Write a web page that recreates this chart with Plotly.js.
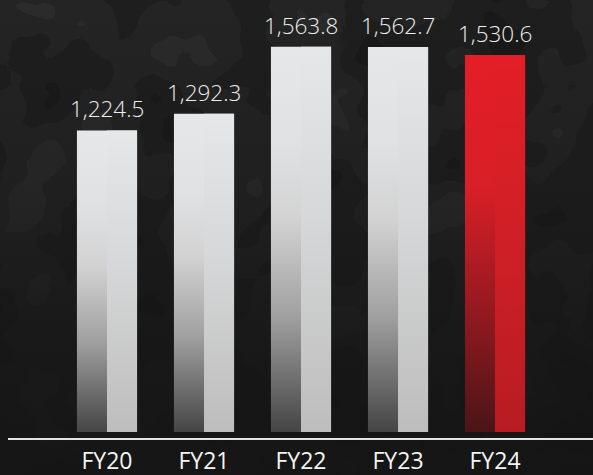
<!DOCTYPE html>
<html>
<head>
<meta charset="utf-8">
<script src="https://cdn.plot.ly/plotly-3.0.1.min.js"></script>
<style>
html,body{margin:0;padding:0;width:593px;height:475px;overflow:hidden;background:#161616;}
#bg{position:absolute;left:0;top:0;width:593px;height:475px;}
#chart{position:absolute;left:0;top:0;width:593px;height:475px;}
</style>
</head>
<body>
<svg id="bg" xmlns="http://www.w3.org/2000/svg" width="593" height="475">
  <defs>
    <filter id="camo" x="0" y="0" width="100%" height="100%" color-interpolation-filters="sRGB">
      <feTurbulence type="fractalNoise" baseFrequency="0.011" numOctaves="3" seed="7" result="n"/>
      <feColorMatrix in="n" type="matrix" values="1 0 0 0 0  1 0 0 0 0  1 0 0 0 0  0 0 0 0 1"/>
      <feComponentTransfer>
        <feFuncR type="discrete" tableValues="0.085 0.10 0.12 0.145 0.17 0.125"/>
        <feFuncG type="discrete" tableValues="0.085 0.10 0.12 0.145 0.17 0.125"/>
        <feFuncB type="discrete" tableValues="0.085 0.10 0.12 0.145 0.17 0.125"/>
      </feComponentTransfer>
    </filter>
    <linearGradient id="fade" x1="0" y1="0" x2="0" y2="1">
      <stop offset="0" stop-color="#151515" stop-opacity="0"/>
      <stop offset="0.45" stop-color="#151515" stop-opacity="0.35"/>
      <stop offset="0.75" stop-color="#151515" stop-opacity="0.8"/>
      <stop offset="1" stop-color="#141414" stop-opacity="0.9"/>
    </linearGradient>
  </defs>
  <rect width="593" height="475" filter="url(#camo)"/>
  <rect width="593" height="475" fill="url(#fade)"/>
</svg>
<div id="chart"></div>
<script>
// ---- data ----
var categories = ['FY20', 'FY21', 'FY22', 'FY23', 'FY24'];
var revenue = [1224.5, 1292.3, 1563.8, 1562.7, 1530.6];
var valueLabels = ['1,224.5', '1,292.3', '1,563.8', '1,562.7', '1,530.6'];
var highlight = [false, false, false, false, true];

var GREY = '#e6e7e8', RED = '#e31e26';
var barColors = highlight.map(function(h){ return h ? RED : GREY; });

var traceLeft = {
  type: 'bar', x: categories, y: revenue,
  width: 0.62, offset: -0.31,
  marker: {color: barColors, line: {width: 0}},
  hoverinfo: 'skip', showlegend: false
};
var traceRight = {
  type: 'bar', x: categories, y: revenue,
  width: 0.31, offset: 0,
  marker: {color: barColors, line: {width: 0}},
  hoverinfo: 'skip', showlegend: false
};

var annotations = categories.map(function(c, i){
  return {
    x: c, y: revenue[i], xref: 'x', yref: 'y',
    text: valueLabels[i], showarrow: false,
    yanchor: 'bottom', yshift: 4,
    font: {family: 'Open Sans, sans-serif', size: 22.5, color: '#eeeeee', weight: 300}
  };
});

var layout = {
  width: 593, height: 475,
  margin: {l: 0, r: 0, t: 0, b: 43, pad: 0},
  paper_bgcolor: 'rgba(0,0,0,0)', plot_bgcolor: 'rgba(0,0,0,0)',
  barmode: 'overlay',
  xaxis: {
    type: 'category', range: [-1.103, 5.010],
    showgrid: false, zeroline: false, showline: false, ticks: '',
    tickfont: {family: 'Open Sans, sans-serif', size: 23, color: '#f4f4f4'},
    ticklabelstandoff: 13
  },
  yaxis: {
    range: [0, 1754], visible: false, showgrid: false, zeroline: false
  },
  shapes: [{
    type: 'line', xref: 'paper', yref: 'paper',
    x0: 0.0135, x1: 1, y0: -0.0162, y1: -0.0162,
    line: {color: '#e4e4e4', width: 2}
  }],
  annotations: annotations,
  showlegend: false
};

function addGradients(gd){
  var svg = gd.querySelector('.main-svg');
  var ns = 'http://www.w3.org/2000/svg';
  var defs = svg.querySelector('defs') || svg.insertBefore(document.createElementNS(ns,'defs'), svg.firstChild);
  var grads = {
    greyL: [[0,'#e6e7e8'],[0.25,'#e0e1e2'],[0.45,'#d2d2d3'],[0.7,'#a0a0a0'],[1,'#454545']],
    greyR: [[0,'#e6e7e8'],[0.45,'#d6d7d8'],[1,'#bdbdbd']],
    redL:  [[0,'#e31e26'],[0.35,'#d91f27'],[0.65,'#9a1a20'],[1,'#4a1518']],
    redR:  [[0,'#e31e26'],[0.5,'#cf1f26'],[1,'#b81c22']]
  };
  Object.keys(grads).forEach(function(id){
    var g = document.createElementNS(ns, 'linearGradient');
    g.setAttribute('id', id);
    g.setAttribute('x1','0'); g.setAttribute('y1','0');
    g.setAttribute('x2','0'); g.setAttribute('y2','1');
    grads[id].forEach(function(s){
      var st = document.createElementNS(ns, 'stop');
      st.setAttribute('offset', s[0]);
      st.setAttribute('stop-color', s[1]);
      g.appendChild(st);
    });
    defs.appendChild(g);
  });
  var traces = gd.querySelectorAll('.barlayer .trace.bars');
  traces.forEach(function(tr, ti){
    var paths = tr.querySelectorAll('.point path');
    paths.forEach(function(p, i){
      var red = highlight[i];
      var id = (red ? 'red' : 'grey') + (ti === 0 ? 'L' : 'R');
      p.style.fill = 'url(#' + id + ')';
    });
  });
}

Plotly.newPlot('chart', [traceLeft, traceRight], layout, {displayModeBar: false, staticPlot: true})
  .then(addGradients);
</script>
</body>
</html>
